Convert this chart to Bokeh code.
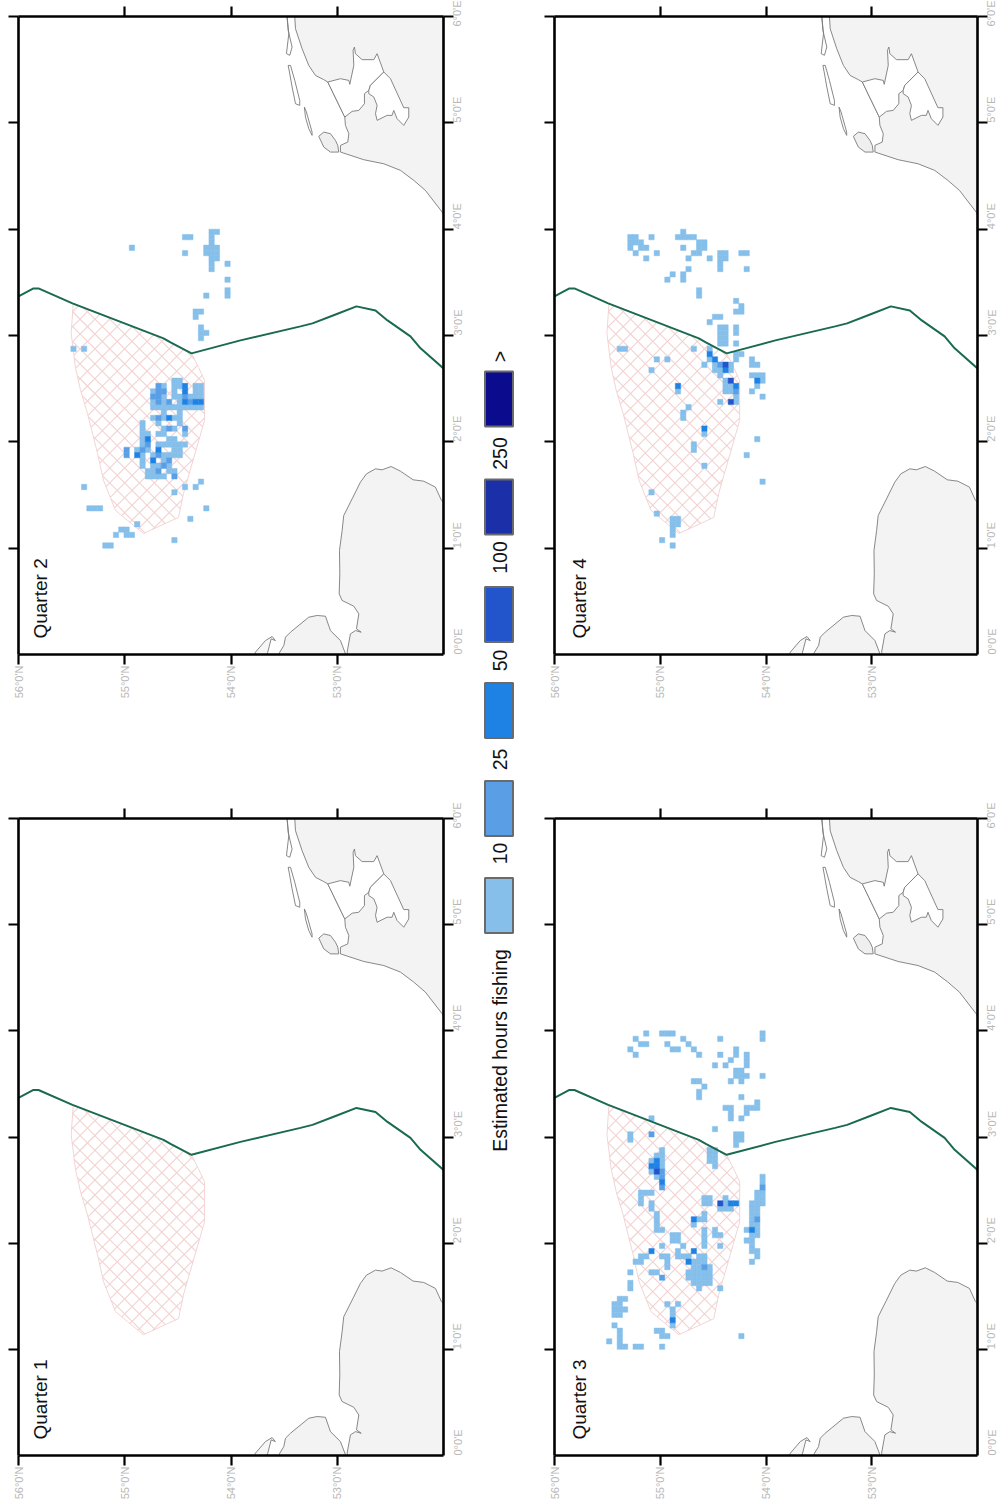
import math
from bokeh.embed import file_html
from bokeh.resources import INLINE
from bokeh.plotting import figure
from bokeh.layouts import row, column
from bokeh.models import Range1d, LinearAxis, FixedTicker
from bokeh.core.properties import value

# ---------- geography (lat, lon) ----------
boundary_lat = [56.0,55.859,55.812,55.492,54.635,54.569,54.372,53.911,53.346,53.233,53.016,52.819,52.64,52.527,52.311,52.216,52.0]
boundary_lon = [3.368,3.443,3.443,3.302,2.973,2.935,2.832,2.954,3.086,3.114,3.198,3.274,3.236,3.142,2.992,2.879,2.69]

area_lat = [55.485,55.504,55.464,55.416,55.351,55.256,55.200,55.087,54.974,54.824,54.494,54.447,54.249,54.249,54.306,54.372,54.569,54.635]
area_lon = [3.302,3.020,2.700,2.484,2.267,1.891,1.637,1.355,1.261,1.138,1.289,1.515,2.201,2.578,2.700,2.832,2.935,2.973]

nl_lat = [53.40,53.393,53.331,53.268,53.205,53.127,53.089,52.929,52.923,52.891,52.901,52.970,52.970,52.750,52.562,52.405,52.280,52.170,52.013,52.0]
nl_lon = [6.0,5.885,5.697,5.540,5.446,5.406,5.384,5.054,4.976,4.898,4.819,4.788,4.725,4.653,4.615,4.553,4.459,4.364,4.161,4.14]
lake1_lat = [53.089,52.970,52.891,52.882,52.844,52.851,52.838,52.829,52.766,52.656,52.625,52.562,52.688,52.703,52.744,52.744,52.797,52.860,52.929]
lake1_lon = [5.384,5.415,5.399,5.362,5.540,5.682,5.713,5.650,5.594,5.594,5.650,5.478,5.352,5.305,5.274,5.180,5.117,5.108,5.054]
lake2_lat = [52.703,52.688,52.562,52.499,52.374,52.327,52.327,52.374,52.437,52.468,52.484,52.531,52.625,52.640,52.625,52.656,52.703]
lake2_lon = [5.305,5.352,5.478,5.415,5.142,5.142,5.054,4.976,5.039,5.117,5.070,5.070,5.023,5.086,5.164,5.243,5.274]
texel_lat = [53.174,53.127,53.064,53.017,52.995,52.986,53.064,53.127]
texel_lon = [4.873,4.913,4.898,4.835,4.788,4.725,4.725,4.772]
isle1_lat = [53.472,53.462,53.425,53.447,53.478,53.456]
isle1_lon = [5.995,5.870,5.713,5.635,5.650,5.838]
isle2_lat = [53.462,53.440,53.400,53.353,53.353,53.393,53.425,53.450]
isle2_lon = [5.540,5.540,5.399,5.211,5.164,5.180,5.337,5.478]
isle3_lat = [53.309,53.290,53.237,53.237,53.268,53.299]
isle3_lon = [5.148,5.101,4.913,4.882,4.945,5.054]

uk1_lat = [52.0,52.019,52.076,52.186,52.286,52.405,52.493,52.578,52.640,52.725,52.782,52.860,52.939,52.954,52.979,52.976,52.982,52.954,52.844,52.797,52.819,52.775,52.829,52.876,52.907,52.9]
uk1_lon = [1.43,1.449,1.574,1.630,1.643,1.724,1.768,1.737,1.746,1.699,1.621,1.464,1.307,1.166,0.978,0.759,0.570,0.508,0.454,0.382,0.241,0.210,0.225,0.194,0.022,0.0]
uk2_lat = [52.92,52.970,53.064,53.111,53.189,53.268,53.440,53.487,53.503,53.541,53.55]
uk2_lon = [0.0,0.131,0.225,0.360,0.367,0.351,0.210,0.163,0.084,0.022,0.0]
uk3_lat = [53.776,53.770,53.676,53.613,53.582,53.622,53.654,53.660]
uk3_lon = [0.0,0.022,0.131,0.169,0.131,0.147,0.022,0.0]

# ---------- fishing cells: {row: [columns]} on a 0.05 degree grid ----------
q2_c0 = {79:[36,37],78:[31,32,36],77:[36],76:[21,35,36,37],75:[31,35,36,37],74:[36,37],73:[36,39],72:[36],70:[39],68:[39],
 67:[35,39],64:[33,34],63:[33],61:[34],60:[34,35],59:[34],57:[10,12],51:[29,30],
 50:[27,29,30,33,34],49:[25,29,33,34],48:[27,29,30,32,33,34],47:[25,27,30],46:[25,26,27,28,29,30,31,32,33,34],45:[27,30],
 44:[25,27,29,30],43:[23,26,30],42:[23,27,29],41:[23,24,26,27,31],40:[23,28,29],39:[23,26,27,28,29,30,31],38:[22,24,29,30],
 37:[23,25,27,28,29,30],36:[23,27],35:[23,25,26,28],34:[24,25,28,29],33:[24,25,26,27],32:[34],31:[12,31,33],30:[29],
 27:[13,14,15,35],25:[32],24:[22],23:[19,20],22:[18,20,21],21:[29],20:[16,17]}
q2_c1 = {50:[26],49:[26,27],48:[25,26,31],47:[26,28,32],44:[26],42:[28,31],39:[24],38:[20,23],37:[20,26],36:[28],35:[27],34:[26],33:[29]}
q2_c2 = {50:[31],49:[31],47:[31,33,34],44:[28],40:[24],38:[26],37:[22],36:[25]}

q4_c0 = {79:[24],78:[14,15,18,23,24,25,26],77:[14,15,16,27,28],76:[14,16,17,24,27,28],75:[15,19,26,27,31,32,35,36],74:[17,25,29,31,32],73:[31],
 72:[25,31,36],71:[22,24],70:[21,24],68:[27],67:[27],66:[34],65:[35],64:[34,35],63:[30,31],62:[29],61:[31,32,34],60:[31,32,34],59:[31,32],
 58:[31,32,34],57:[12,13,26,29],56:[34,35],55:[19,21,29,34,37],54:[28,30,33,37,38],53:[18,30,31,33],52:[31,37,38,39],51:[32,39],50:[32,33,38],
 49:[23,32,33,37],48:[34,39],47:[31,34],46:[25],45:[24],44:[24],41:[28],40:[38],39:[26],38:[26],37:[36],35:[28],32:[39],30:[18],26:[19],
 25:[22,23],24:[22,23],23:[22],22:[22],21:[20],20:[22]}
q4_c1 = {54:[31],49:[34]}
q4_c2 = {56:[29],55:[30],53:[32],51:[38],50:[23,34],42:[28]}
q4_c3 = {54:[32],51:[33],47:[33]}

q3_c0 = {79:[17,20,21,22,39],78:[15,24,31,39],77:[16,17,21,25],76:[14,22,23,26,34],75:[15,27,31,34,36],74:[33,36],73:[30,32,36],72:[34,35],
 71:[34,35,36,39],70:[26,27,33,35],69:[28],68:[27],67:[27,35],66:[38],65:[32,33,36,37,38],64:[33,36],63:[18,33,35],61:[30],60:[14,34,35],59:[14,34,35],
 58:[34],57:[20,29,30],56:[19,20,29,30],55:[18,20,29,30],54:[20,30],53:[18],52:[19,39],51:[39],49:[16,17,18,38,39],48:[16,28,29,32,38,39],
 47:[16,18,28,29,32,37,38,39],46:[18,31,32,33,37,38],45:[19,28,37,38],44:[19,27,28,37],43:[19,26,37,38],42:[19,20,28,30,36,38],41:[22,23,28,30,31,37,38],
 40:[22,23,28,36,37],39:[20,24,28,31,37],38:[23,37,38],37:[16,17,20,21,23,24,25,27,28,38],36:[15,16,21,26,27,28,37],35:[21,26,27,29],34:[14,18,19,25,26,27,28,29],
 33:[25,26,27,28,29],32:[14,26,27,28,29],31:[14,27,31],29:[12,13],28:[11,12,21,23],27:[11,12,13,22],26:[11,12,22],24:[11,22],23:[12,19,20],22:[12,20,21,35],
 21:[10,12],20:[12,13,15,16,20]}
q3_c1 = {53:[20],52:[20],50:[39,20],44:[38],35:[28],33:[20],60:[18]}
q3_c2 = {55:[19],54:[18,19],51:[20],44:[26],47:[33,34],42:[37],38:[18,26],36:[25],25:[22]}
q3_c3 = {53:[19],47:[31]}

panels = {"Quarter 1": [{}, {}, {}, {}],
          "Quarter 2": [q2_c0, q2_c1, q2_c2, {}],
          "Quarter 3": [q3_c0, q3_c1, q3_c2, q3_c3],
          "Quarter 4": [q4_c0, q4_c1, q4_c2, q4_c3]}

class_colors = ["#85BFEA", "#5A9FE6", "#1E82E4", "#2254CC", "#1B2FA8", "#0B0B8E"]
legend_labels = ["10", "25", "50", "100", "250", ">"]
legend_title = "Estimated hours fishing"
lon_ticks = [0, 1, 2, 3, 4, 5, 6]
lat_ticks = [56, 55, 54, 53]

FONT = "Liberation Sans"
CELL = 0.05
LAT0 = 56.0075
HATCH_STEP = 0.14
HATCH_PHASE = {1: 0.055, -1: 0.093}


def hatch_segments(lat, lon):
    """clip two diagonal families of lines to the area polygon"""
    xs, ys = [], []
    n = len(lat)
    for sgn in (1, -1):
        us = [lo + sgn * la for la, lo in zip(lat, lon)]
        k0 = math.floor(min(us) / HATCH_STEP) - 1
        k1 = math.ceil(max(us) / HATCH_STEP) + 1
        for k in range(k0, k1 + 1):
            c = k * HATCH_STEP + HATCH_PHASE[sgn]
            pts = []
            for a in range(n):
                b = (a + 1) % n
                if (us[a] - c) * (us[b] - c) < 0:
                    t = (c - us[a]) / (us[b] - us[a])
                    pts.append((lat[a] + t * (lat[b] - lat[a]), lon[a] + t * (lon[b] - lon[a])))
            pts.sort()
            for m in range(0, len(pts) - 1, 2):
                xs.append([pts[m][0], pts[m + 1][0]])
                ys.append([pts[m][1], pts[m + 1][1]])
    return xs, ys


def label_axis(p, side, ticks, text, ticked, standoff=1):
    tick_vals = [t for t in ticks if ticked(t)]
    a = LinearAxis(ticker=FixedTicker(ticks=tick_vals))
    a.major_label_overrides = {t: "" for t in tick_vals}
    a.major_label_text_font_size = "1px"
    a.major_label_standoff = 0
    a.major_tick_out = 10
    a.major_tick_in = 0
    a.minor_tick_line_color = None
    a.major_tick_line_width = 2.2
    a.major_tick_line_color = "#000000"
    a.axis_line_width = 2.6
    a.axis_line_color = "#000000"
    p.add_layout(a, side)
    if text:
        b = LinearAxis(ticker=FixedTicker(ticks=ticks))
        b.major_label_overrides = {t: text(t) for t in ticks}
        b.major_label_orientation = math.pi / 2
        b.major_label_text_font = FONT
        b.major_label_text_font_size = "11px"
        b.major_label_text_color = "#b8b8b8"
        b.major_label_standoff = standoff
        b.major_tick_out = 0
        b.major_tick_in = 0
        b.minor_tick_line_color = None
        b.major_tick_line_color = None
        b.axis_line_color = None
        p.add_layout(b, side)


def panel(name, left, right, bottom, width, height, name_lat):
    p = figure(width=width, height=height, x_range=Range1d(56, 52), y_range=Range1d(0, 6),
               x_axis_type=None, y_axis_type=None, toolbar_location=None, output_backend="svg",
               min_border_left=left, min_border_right=right, min_border_top=16, min_border_bottom=bottom,
               outline_line_color=None, background_fill_color="#ffffff")
    p.xgrid.visible = False
    p.ygrid.visible = False
    # land
    land_lat = nl_lat + [52.0]
    land_lon = nl_lon + [6.0]
    p.patch(land_lat, land_lon, fill_color="#f3f3f3", line_color=None)
    p.line(nl_lat, nl_lon, line_color="#7a7a7a", line_width=0.9)
    for la, lo in ((lake1_lat, lake1_lon), (lake2_lat, lake2_lon)):
        p.patch(la, lo, fill_color="#ffffff", line_color="#7a7a7a", line_width=0.9)
    p.patch(texel_lat, texel_lon, fill_color="#efefef", line_color="#7a7a7a", line_width=0.9)
    for la, lo in ((isle1_lat, isle1_lon), (isle2_lat, isle2_lon), (isle3_lat, isle3_lon)):
        p.patch(la, lo, fill_color="#ffffff", line_color="#7a7a7a", line_width=0.9)
    p.patch(uk1_lat + [52.0], uk1_lon + [0.0], fill_color="#f3f3f3", line_color=None)
    p.line(uk1_lat, uk1_lon, line_color="#7a7a7a", line_width=0.9)
    p.patch(uk2_lat, uk2_lon, fill_color="#f3f3f3", line_color=None)
    p.line(uk2_lat, uk2_lon, line_color="#7a7a7a", line_width=0.9)
    p.patch(uk3_lat, uk3_lon, fill_color="#f6f6f6", line_color=None)
    p.line(uk3_lat, uk3_lon, line_color="#7a7a7a", line_width=0.9)
    # protected area
    hx, hy = hatch_segments(area_lat, area_lon)
    p.multi_line(hx, hy, line_color="#f3d2d2", line_width=1.1)
    p.patch(area_lat, area_lon, fill_color=None, line_color="#f3d4d4", line_width=1.0)
    # fishing cells
    for cls, rows in enumerate(panels[name]):
        t, b, l, r = [], [], [], []
        for j, cols in rows.items():
            for i in cols:
                l.append(LAT0 - i * CELL)
                r.append(LAT0 - (i + 1) * CELL)
                b.append(j * CELL)
                t.append((j + 1) * CELL)
        if l:
            p.quad(left=l, right=r, bottom=b, top=t, fill_color=class_colors[cls],
                   line_color=class_colors[cls], line_width=0.5)
    p.line(boundary_lat, boundary_lon, line_color="#1a6a52", line_width=2.0)
    p.text([name_lat], [0.15], text=[name], angle=math.pi / 2, text_align="left", text_baseline="middle",
           text_font=value(FONT), text_font_size="19px", text_color="#111111")
    lat_txt = lambda v: f"{v}\u00b00'N"
    lon_txt = lambda v: f"{v}\u00b00'E"
    label_axis(p, "below", lat_ticks, lat_txt, lambda t: True)
    label_axis(p, "above", lat_ticks, None, lambda t: t != 56)
    label_axis(p, "left", lon_ticks, None, lambda t: t != 0)
    label_axis(p, "right", lon_ticks, lon_txt, lambda t: t != 0, standoff=4)
    return p


p2 = panel("Quarter 2", 18, 35, 148, 478, 802, 55.79)
p1 = panel("Quarter 1", 18, 35, 46, 478, 700, 55.79)
p4 = panel("Quarter 4", 27, 27, 148, 479, 802, 55.76)
p3 = panel("Quarter 3", 27, 27, 46, 479, 700, 55.76)

# ---------- legend strip, in page pixels ----------
legend_y = [905, 808, 710, 614, 506.5, 398.5]
label_y = [853, 759, 660, 557, 453, 356]
leg = figure(width=49, height=1502, x_range=Range1d(478, 527), y_range=Range1d(1502, 0),
             x_axis_type=None, y_axis_type=None, toolbar_location=None, output_backend="svg",
             min_border=0, outline_line_color=None)
leg.xgrid.visible = False
leg.ygrid.visible = False
leg.rect([498.5] * 6, legend_y, width=28, height=55, fill_color=class_colors, line_color="#6a6a6a", line_width=2)
leg.text([499] * 6, label_y, text=legend_labels, angle=math.pi / 2, text_align="center", text_baseline="middle",
         text_font=value(FONT), text_font_size="19.5px", text_color="#111111")
leg.text([499], [1050], text=[legend_title], angle=math.pi / 2, text_align="center", text_baseline="middle",
         text_font=value(FONT), text_font_size="19.5px", text_color="#111111")

layout = row(column(p2, p1, spacing=0), leg, column(p4, p3, spacing=0), spacing=0)
open("out.html", "w").write(file_html(layout, INLINE))
